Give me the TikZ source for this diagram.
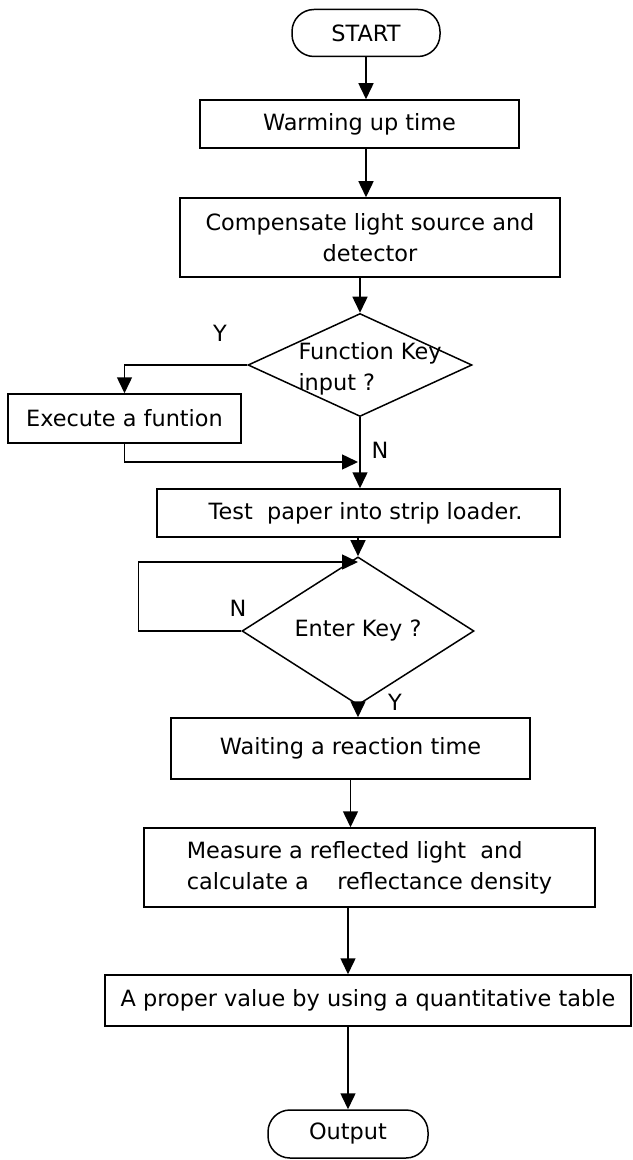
\documentclass[tikz,border=0pt]{standalone}
\usepackage{fontspec}
\setmainfont{DejaVu Sans}
\usetikzlibrary{shapes.geometric,arrows.meta}

\tikzset{
  flowtext/.style={font=\fontsize{11.2pt}{15.5pt}\selectfont},
  flowbox/.style={draw, rectangle, inner sep=2pt, flowtext},
  terminal/.style={flowbox, rounded corners=11pt},
  decision/.style={draw, diamond, inner sep=0pt, flowtext},
  flowarrow/.style={-{Triangle[length=8pt,width=7.5pt]}},
}

\begin{document}
\begin{tikzpicture}[x=0.5pt, y=-0.5pt, line width=0.75pt]

\useasboundingbox (0,0) rectangle (632,1160);

% merge points on the main column
\newcommand\mergeAy{462}
\newcommand\mergeBy{562}

\node[terminal, minimum width=74pt, minimum height=23.5pt] (start) at (366,33) {START};
\node[flowbox, minimum width=159.5pt, minimum height=24pt] (warmUp) at (359.5,124) {Warming up time};
\node[flowbox, minimum width=190pt, minimum height=39.5pt, align=center] (compensate) at (370,237.5)
  {Compensate light source and\\detector};

\node[decision, minimum width=112pt, minimum height=51.5pt] (funcKey) at (360,365) {};
\node[flowtext, align=left] (funcKeyText) at (370,369) {Function Key\\input ?};
\node[flowbox, minimum width=116.5pt, minimum height=24.5pt] (execFunc) at (124.5,418.5) {Execute a funtion};

\node[flowbox, minimum width=201.5pt, minimum height=24pt] (testPaper) at (358.5,513)
  {\ \ Test\ \ paper into strip loader.};
\node[decision, minimum width=116pt, minimum height=52pt] (enterKey) at (358,631) {Enter Key ?};

\node[flowbox, minimum width=179.5pt, minimum height=30.5pt] (waitReact) at (350.5,748.5) {Waiting a reaction time};
\node[flowbox, minimum width=225.5pt, minimum height=39.5pt, align=left] (measure) at (369.5,867.5)
  {Measure a reflected light\ \ and\\calculate a\ \ \ \ reflectance density};
\node[flowbox, minimum width=263pt, minimum height=25.5pt] (properValue) at (368,1000.5)
  {A proper value by using a quantitative table};
\node[terminal, minimum width=80pt, minimum height=24pt] (output) at (348,1134) {Output};

\coordinate (mergeA) at (358,\mergeAy);
\coordinate (mergeB) at (358,\mergeBy);

% labels of the two decisions
\node[flowtext] (yesA) at (220,333) {Y};
\node[flowtext] (noA) at (380,450) {N};
\node[flowtext] (noB) at (238,608) {N};
\node[flowtext] (yesB) at (395,702) {Y};


\draw[flowarrow] (start) -- (start |- warmUp.north);
\draw[flowarrow] (start |- warmUp.south) -- (start |- compensate.north);
\draw[flowarrow] (compensate.south -| funcKey) -- (funcKey.north);

\draw[flowarrow] (funcKey.west) -| (execFunc.north);
\draw[flowarrow] (execFunc.south) |- (mergeA);
\draw[flowarrow] (funcKey.south) -- (funcKey.south |- testPaper.north);

\draw[flowarrow] (testPaper.south -| enterKey) -- (enterKey.north);
\draw[flowarrow] (enterKey.west) -- ++(-51.5pt,0) |- (mergeB);
%\draw (enterKey.east) -- ++(20pt,0);

\draw[flowarrow] (enterKey.south) -- (enterKey.south |- waitReact.north);
\draw[flowarrow] (waitReact.south) -- (waitReact.south |- measure.north);
\draw[flowarrow] (measure.south -| output) -- (properValue.north -| output);
\draw[flowarrow] (properValue.south -| output) -- (output.north);

\end{tikzpicture}
\end{document}
